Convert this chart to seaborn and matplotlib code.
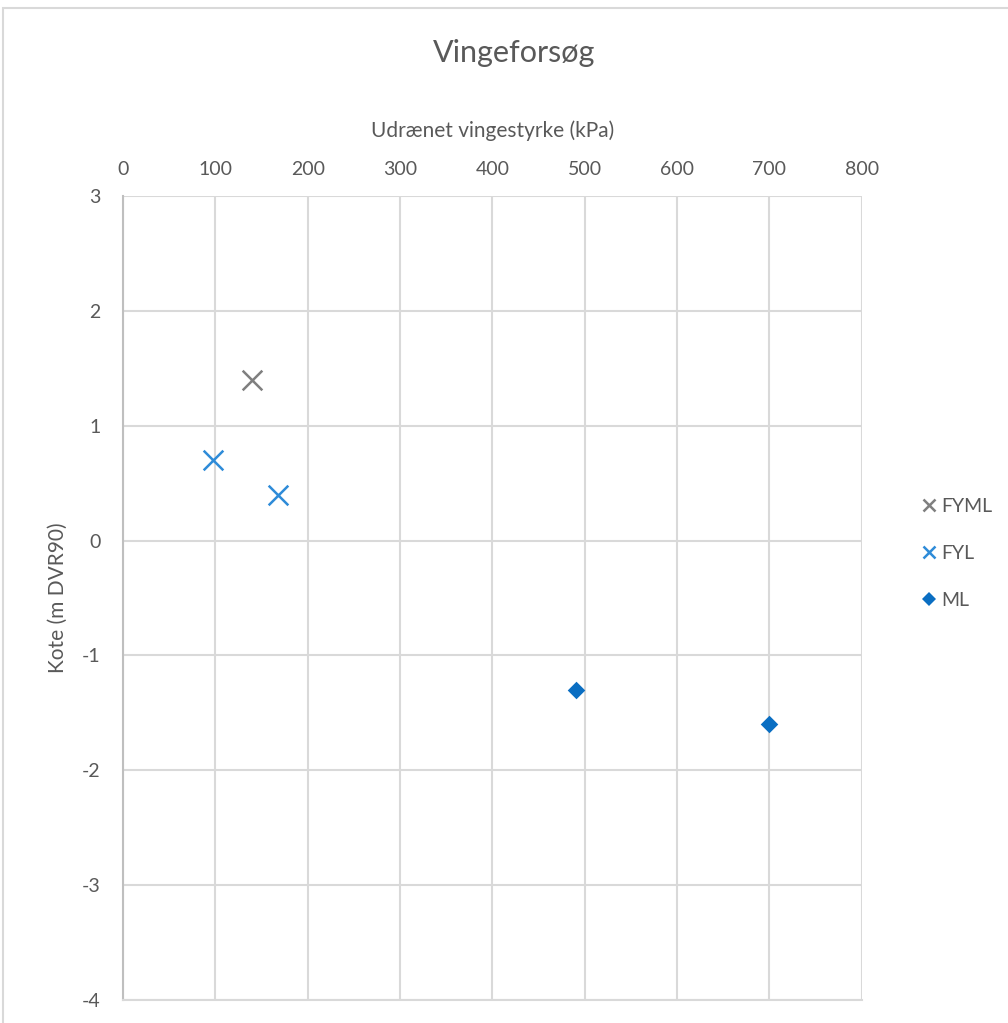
import pandas as pd
import numpy as np
import matplotlib
matplotlib.use("Agg")
import matplotlib.pyplot as plt
import seaborn as sns
from matplotlib.lines import Line2D
from matplotlib.patches import Rectangle

# data
serier = ['FYML', 'FYL', 'FYL', 'ML', 'ML']
styrke = [140, 97, 168, 490, 700]      # kPa
kote = [1.4, 0.7, 0.4, -1.3, -1.6]      # m DVR90

farver = {'FYML': '#7F7F7F', 'FYL': '#2E8BD8', 'ML': '#0A6EC2'}
markoerer = {'FYML': 'x', 'FYL': 'x', 'ML': 'D'}

df = pd.DataFrame({'serie': serier, 'styrke': styrke, 'kote': kote})

sns.set_style("white")
plt.rcParams['font.family'] = ['Lato', 'DejaVu Sans']
plt.rcParams['axes.unicode_minus'] = False

fig = plt.figure(figsize=(10.08, 10.23), dpi=100)
ax = fig.add_axes([0.122, 0.0225, 0.733, 0.786])

# ramme om hele diagrammet
fig.patches.append(Rectangle((3/1008, -0.1), 1.2, 1 - 8/1023 + 0.1,
                             transform=fig.transFigure, fill=False,
                             edgecolor='#D9D9D9', linewidth=1.5))

for navn in ['FYML', 'FYL', 'ML']:
    d = df[df['serie'] == navn]
    if markoerer[navn] == 'x':
        sns.scatterplot(data=d, x='styrke', y='kote', ax=ax, marker='x',
                        color=farver[navn], s=200, linewidth=1.8, legend=False)
    else:
        sns.scatterplot(data=d, x='styrke', y='kote', ax=ax, marker='D',
                        color=farver[navn], s=80, linewidth=0, legend=False)

ax.set_xlim(0, 800)
ax.set_ylim(-4, 3)
ax.set_xticks(range(0, 801, 100))
ax.set_yticks(range(-4, 4))
ax.xaxis.tick_top()
ax.xaxis.set_label_position('top')
ax.grid(True, color='#D9D9D9', linewidth=1.5)
ax.set_axisbelow(True)
for s in ['top', 'right']:
    ax.spines[s].set_visible(False)
ax.spines['left'].set_color('#BFBFBF')
ax.spines['bottom'].set_color('#D9D9D9')
ax.spines['left'].set_linewidth(1.5)
ax.spines['bottom'].set_linewidth(1.5)
ax.tick_params(length=0, labelsize=14, labelcolor='#595959', pad=13)
ax.tick_params(axis='y', pad=16)

ax.set_xlabel('Udrænet vingestyrke (kPa)', fontsize=15, color='#595959', labelpad=17)
ax.set_ylabel('Kote (m DVR90)', fontsize=15, color='#595959', labelpad=10)

fig.text(0.51, 0.948, 'Vingeforsøg', ha='center', va='center',
         fontsize=22, color='#595959')

handles = [Line2D([], [], linestyle='none', marker='x', color=farver['FYML'],
                  markersize=9, markeredgewidth=1.8),
           Line2D([], [], linestyle='none', marker='x', color=farver['FYL'],
                  markersize=9, markeredgewidth=1.8),
           Line2D([], [], linestyle='none', marker='D', color=farver['ML'],
                  markersize=7, markeredgewidth=0)]
leg = fig.legend(handles, ['FYML', 'FYL', 'ML'], loc='center left',
                 bbox_to_anchor=(0.893, 0.459), frameon=False, fontsize=14,
                 handletextpad=0.0, labelspacing=1.55, handlelength=1.2)
for t in leg.get_texts():
    t.set_color('#595959')

fig.savefig('out.png', dpi=100)
